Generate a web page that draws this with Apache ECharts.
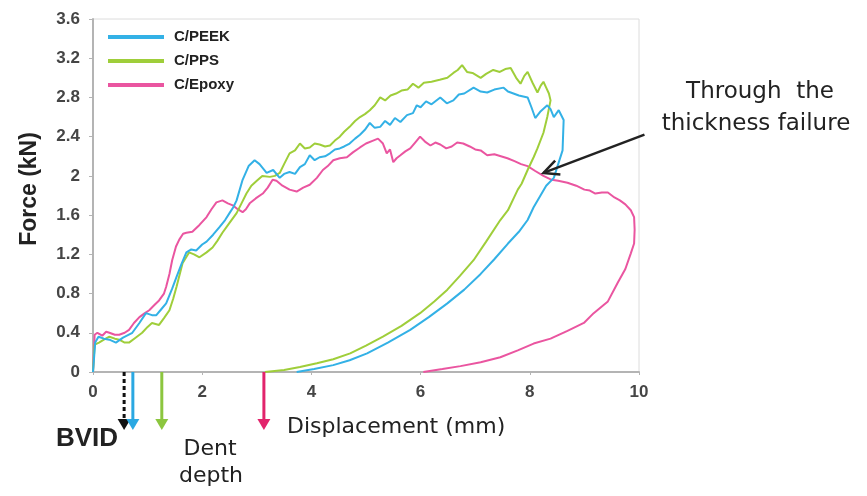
<!DOCTYPE html>
<html>
<head>
<meta charset="utf-8">
<script src="https://cdn.jsdelivr.net/npm/echarts@6/dist/echarts.min.js"></script>
<style>html,body{margin:0;padding:0;background:#fff;}#chart{width:867px;height:496px;}</style>
</head>
<body>
<div id="chart"></div>
<script>
// ---- data (displacement mm, force kN) ----
const seriesNames = ['C/PEEK', 'C/PPS', 'C/Epoxy'];
const xTicks = [0, 2, 4, 6, 8, 10];
const yTicks = [0, 0.4, 0.8, 1.2, 1.6, 2, 2.4, 2.8, 3.2, 3.6];

const peek = [[0,0],[0.04,0.3],[0.1,0.36],[0.2,0.34],[0.3,0.33],[0.42,0.3],[0.55,0.35],[0.72,0.4],[0.85,0.5],[0.97,0.6],[1.08,0.58],[1.16,0.58],[1.25,0.64],[1.34,0.7],[1.45,0.85],[1.53,0.97],[1.62,1.1],[1.71,1.22],[1.8,1.25],[1.89,1.24],[2.0,1.3],[2.08,1.33],[2.2,1.4],[2.32,1.48],[2.42,1.55],[2.5,1.62],[2.57,1.68],[2.63,1.75],[2.74,1.96],[2.85,2.1],[2.96,2.16],[3.05,2.12],[3.18,2.03],[3.3,2.06],[3.42,1.98],[3.5,2.02],[3.6,2.04],[3.7,2.02],[3.79,2.09],[3.88,2.12],[3.97,2.21],[4.06,2.16],[4.15,2.19],[4.25,2.2],[4.34,2.23],[4.43,2.27],[4.52,2.28],[4.6,2.3],[4.7,2.33],[4.8,2.38],[4.89,2.42],[4.98,2.47],[5.07,2.54],[5.16,2.49],[5.26,2.5],[5.35,2.56],[5.44,2.52],[5.53,2.59],[5.63,2.55],[5.75,2.62],[5.86,2.64],[5.93,2.72],[6.0,2.7],[6.1,2.76],[6.2,2.73],[6.36,2.8],[6.48,2.74],[6.6,2.77],[6.7,2.83],[6.8,2.84],[6.97,2.9],[7.1,2.86],[7.22,2.85],[7.35,2.88],[7.52,2.9],[7.6,2.86],[7.7,2.84],[7.8,2.82],[7.96,2.8],[8.03,2.7],[8.1,2.59],[8.2,2.66],[8.32,2.72],[8.38,2.68],[8.44,2.6],[8.53,2.67],[8.62,2.57],
  [8.6,2.26],[8.52,2.12],[8.44,1.98],[8.3,1.9],[8.07,1.68],[7.96,1.55],[7.8,1.43],[7.6,1.31],[7.35,1.15],[7.1,1.0],[6.8,0.84],[6.49,0.7],[6.15,0.56],[5.81,0.43],[5.4,0.3],[5.02,0.19],[4.7,0.12],[4.4,0.07],[4.05,0.03],[3.73,0]];

const pps = [[0,0],[0.03,0.28],[0.11,0.3],[0.2,0.33],[0.3,0.36],[0.4,0.34],[0.48,0.33],[0.58,0.3],[0.66,0.3],[0.78,0.35],[0.9,0.4],[1.0,0.46],[1.08,0.5],[1.21,0.48],[1.3,0.55],[1.4,0.63],[1.47,0.75],[1.53,0.87],[1.64,1.11],[1.76,1.22],[1.85,1.2],[1.95,1.17],[2.08,1.22],[2.19,1.27],[2.28,1.34],[2.37,1.42],[2.5,1.52],[2.63,1.62],[2.72,1.72],[2.81,1.82],[2.9,1.9],[3.0,1.95],[3.1,2.0],[3.24,1.99],[3.33,2.0],[3.42,2.03],[3.5,2.12],[3.6,2.23],[3.7,2.26],[3.79,2.33],[3.88,2.28],[3.97,2.29],[4.06,2.33],[4.15,2.32],[4.25,2.3],[4.34,2.31],[4.43,2.36],[4.52,2.4],[4.6,2.45],[4.7,2.5],[4.8,2.56],[4.89,2.6],[4.98,2.63],[5.07,2.67],[5.16,2.72],[5.26,2.8],[5.35,2.77],[5.45,2.82],[5.55,2.84],[5.65,2.87],[5.76,2.88],[5.86,2.94],[5.96,2.9],[6.06,2.95],[6.2,2.96],[6.35,2.98],[6.49,3.0],[6.6,3.05],[6.68,3.08],[6.76,3.13],[6.85,3.06],[6.95,3.05],[7.1,3.0],[7.2,3.04],[7.33,3.08],[7.45,3.06],[7.55,3.09],[7.65,3.1],[7.75,3.0],[7.83,2.94],[7.9,3.02],[7.96,3.06],[8.05,2.95],[8.14,2.85],[8.2,2.92],[8.25,2.96],[8.3,2.9],[8.35,2.84],
  [8.38,2.77],[8.32,2.6],[8.25,2.44],[8.14,2.28],[8.07,2.19],[7.96,2.06],[7.85,1.92],[7.78,1.86],[7.6,1.65],[7.46,1.55],[7.2,1.33],[6.97,1.14],[6.72,0.98],[6.49,0.84],[6.25,0.72],[5.99,0.6],[5.65,0.47],[5.31,0.36],[5.0,0.27],[4.71,0.19],[4.4,0.13],[4.1,0.09],[3.79,0.05],[3.5,0.02],[3.15,0]];

const epoxy = [[0,0],[0.03,0.38],[0.08,0.4],[0.17,0.37],[0.24,0.41],[0.3,0.4],[0.4,0.38],[0.48,0.38],[0.58,0.4],[0.66,0.43],[0.75,0.5],[0.85,0.56],[0.95,0.6],[1.03,0.63],[1.12,0.68],[1.21,0.73],[1.3,0.8],[1.34,0.87],[1.4,1.0],[1.45,1.14],[1.52,1.28],[1.58,1.35],[1.65,1.41],[1.71,1.42],[1.82,1.43],[1.95,1.5],[2.08,1.58],[2.17,1.66],[2.26,1.73],[2.37,1.75],[2.47,1.72],[2.56,1.7],[2.65,1.66],[2.74,1.63],[2.8,1.66],[2.87,1.72],[2.98,1.77],[3.11,1.82],[3.2,1.88],[3.29,1.96],[3.36,1.95],[3.47,1.9],[3.6,1.86],[3.73,1.84],[3.85,1.88],[3.97,1.91],[4.1,1.98],[4.21,2.06],[4.3,2.1],[4.4,2.16],[4.52,2.18],[4.65,2.19],[4.76,2.24],[4.89,2.29],[5.0,2.33],[5.13,2.36],[5.22,2.38],[5.31,2.33],[5.38,2.23],[5.44,2.27],[5.5,2.14],[5.56,2.18],[5.63,2.21],[5.72,2.25],[5.81,2.28],[5.9,2.34],[5.99,2.4],[6.08,2.35],[6.18,2.31],[6.27,2.34],[6.36,2.32],[6.47,2.28],[6.57,2.3],[6.67,2.34],[6.78,2.33],[6.9,2.3],[7.0,2.27],[7.1,2.26],[7.22,2.21],[7.35,2.22],[7.47,2.2],[7.59,2.18],[7.72,2.15],[7.84,2.12],[7.96,2.1],[8.1,2.05],[8.25,2.0],[8.4,1.96],[8.52,1.95],[8.69,1.93],[8.85,1.9],[9.0,1.86],[9.1,1.85],[9.2,1.82],[9.32,1.83],[9.43,1.83],[9.55,1.78],[9.65,1.75],[9.75,1.71],[9.85,1.65],[9.91,1.58],
  [9.92,1.45],[9.91,1.31],[9.85,1.21],[9.75,1.05],[9.61,0.91],[9.43,0.72],[9.17,0.6],[8.99,0.5],[8.69,0.42],[8.38,0.34],[8.07,0.29],[7.78,0.22],[7.46,0.15],[7.1,0.1],[6.73,0.06],[6.4,0.03],[6.05,0]];

// dent depth markers (mm) and BVID threshold
const dentDepths = [0.73, 1.26, 3.13];   // PEEK, PPS, Epoxy
const bvidDepth = 0.57;
const failurePoint = [8.25, 2.03];
const failureArrowTail = [10.1, 2.42];

const colors = ['#33b1e6', '#9fce3a', '#ea55a0'];
const arrowColors = ['#2aa8e2', '#8cc63f', '#e2246c'];

const chart = echarts.init(document.getElementById('chart'), null, {renderer: 'canvas'});
const tickFont = {fontFamily: 'Liberation Sans', fontWeight: 'bold', fontSize: 17, color: '#454545'};

chart.setOption({
  animation: false,
  backgroundColor: '#fff',
  grid: {left: 93, right: 228, top: 19, bottom: 124, show: true, borderColor: '#dcdcdc', borderWidth: 1},
  legend: {
    data: seriesNames, orient: 'vertical', left: 103, top: 24,
    icon: 'rect', itemWidth: 56, itemHeight: 4, itemGap: 8,
    textStyle: {fontFamily: 'Liberation Sans', fontWeight: 'bold', fontSize: 15, color: '#222', lineHeight: 16, padding: [0, 0, 0, 5]}
  },
  xAxis: {
    type: 'value', min: xTicks[0], max: xTicks[xTicks.length - 1], interval: 2,
    axisLine: {show: true, lineStyle: {color: '#b4b4b4', width: 2}},
    axisTick: {show: true, length: 3, lineStyle: {color: '#b4b4b4'}},
    splitLine: {show: false},
    axisLabel: Object.assign({margin: 12, formatter: v => String(+v.toFixed(1))}, tickFont)
  },
  yAxis: {
    type: 'value', min: yTicks[0], max: yTicks[yTicks.length - 1], interval: 0.4,
    axisLine: {show: true, lineStyle: {color: '#b4b4b4', width: 2}},
    axisTick: {show: true, length: 4, lineStyle: {color: '#b4b4b4'}},
    splitLine: {show: false},
    axisLabel: Object.assign({margin: 13, formatter: v => String(+v.toFixed(1))}, tickFont)
  },
  series: [peek, pps, epoxy].map((d, i) => ({
    name: seriesNames[i], type: 'line', data: d, showSymbol: false, smooth: false,
    lineStyle: {color: colors[i], width: 2}, itemStyle: {color: colors[i]}, z: 3 - i
  }))
});

// ---- annotations ----
const px = p => chart.convertToPixel({gridIndex: 0}, p);
const y0 = px([0, 0])[1];
const tipDrop = 58;
const g = [];
function downArrow(x, color, dashed) {
  const tip = y0 + tipDrop;
  g.push({type: 'line', shape: {x1: x, y1: y0, x2: x, y2: tip - 8},
    style: {stroke: color, lineWidth: 3, lineDash: dashed ? [4, 3] : null}, z: 10});
  g.push({type: 'polygon', shape: {points: [[x - 6.5, tip - 11], [x + 6.5, tip - 11], [x, tip]]},
    style: {fill: color}, z: 10});
}
downArrow(px([bvidDepth, 0])[0], '#111', true);
dentDepths.forEach((d, i) => downArrow(px([d, 0])[0], arrowColors[i], false));

// through-thickness arrow
const tp = px(failurePoint), tl = px(failureArrowTail);
const ang = Math.atan2(tl[1] - tp[1], tl[0] - tp[0]);
const hl = 17, hw = 0.45;
g.push({type: 'line', shape: {x1: tl[0], y1: tl[1], x2: tp[0], y2: tp[1]}, style: {stroke: '#222', lineWidth: 2.5}, z: 10});
g.push({type: 'polyline', shape: {points: [
  [tp[0] + hl * Math.cos(ang + hw), tp[1] + hl * Math.sin(ang + hw)],
  [tp[0], tp[1]],
  [tp[0] + hl * Math.cos(ang - hw), tp[1] + hl * Math.sin(ang - hw)]
]}, style: {stroke: '#222', lineWidth: 2.5, fill: null}, z: 10});

function txt(text, x, y, font, align, rot) {
  g.push({type: 'text', x: x, y: y, rotation: rot || 0, z: 20,
    style: {text: text, font: font, fill: '#222', align: align || 'center', verticalAlign: 'middle',
      textAlign: align || 'center', textVerticalAlign: 'middle'}});
}
txt('Force (kN)', 30, 189, 'bold 23px "Liberation Sans"', 'center', Math.PI / 2);
txt('Displacement (mm)', 287, 427, '22px "DejaVu Sans"', 'left');
txt('Through  the', 760, 92, '23px "DejaVu Sans"', 'center');
txt('thickness failure', 756, 124, '23px "DejaVu Sans"', 'center');
txt('BVID', 87, 439, 'bold 26px "Liberation Sans"', 'center');
txt('Dent', 210, 449, '22px "DejaVu Sans"', 'center');
txt('depth', 211, 476, '22px "DejaVu Sans"', 'center');

chart.setOption({graphic: g});
</script>
</body>
</html>
